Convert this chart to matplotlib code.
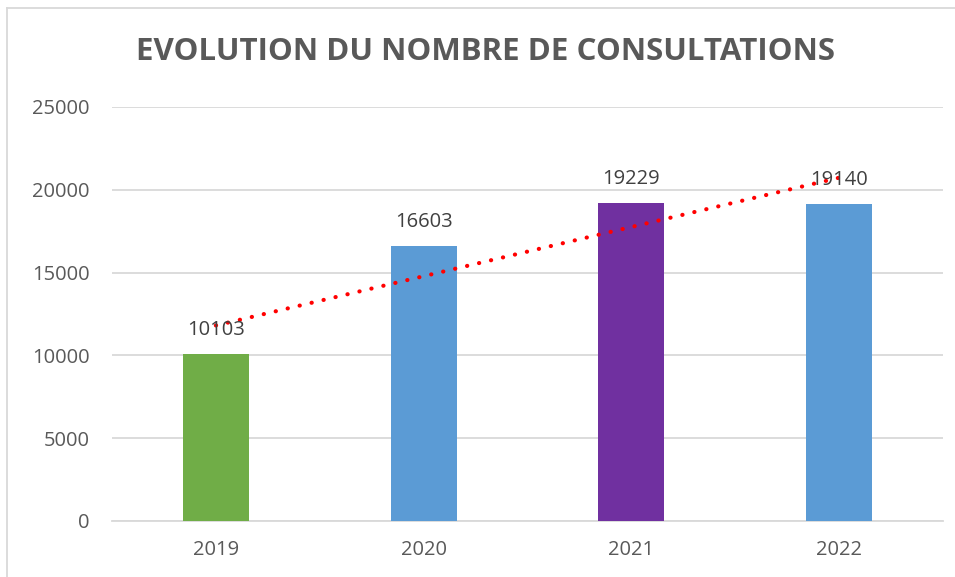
import matplotlib
matplotlib.use("Agg")
import matplotlib.pyplot as plt
import numpy as np
from matplotlib.lines import Line2D

years = ["2019", "2020", "2021", "2022"]
consultations = [10103, 16603, 19229, 19140]
bar_colors = ["#70AD47", "#5B9BD5", "#7030A0", "#5B9BD5"]
yticks = [0, 5000, 10000, 15000, 20000, 25000]
title = "EVOLUTION DU NOMBRE DE CONSULTATIONS"

W, H = 955, 577
fig = plt.figure(figsize=(W / 100, H / 100), dpi=100)
ax = fig.add_axes([112 / W, 1 - 521 / H, (943 - 112) / W, (521 - 107) / H])

x = np.arange(len(years))
ax.bar(x, consultations, width=0.318, color=bar_colors, zorder=3)
ax.set_xlim(-0.5, len(years) - 0.5)
ax.set_ylim(0, 25000)
ax.set_yticks(yticks)
ax.set_yticklabels([str(v) for v in yticks])
ax.set_xticks(x)
ax.set_xticklabels(years)
ax.grid(axis="y", color="#D9D9D9", linewidth=1.3, zorder=0)
for s in ["top", "right", "left"]:
    ax.spines[s].set_visible(False)
ax.spines["bottom"].set_color("#D9D9D9")
ax.spines["bottom"].set_linewidth(1.3)
ax.tick_params(length=0, labelsize=14.5, colors="#595959")
ax.tick_params(axis="y", pad=16)
ax.tick_params(axis="x", pad=14)
for lab in ax.get_xticklabels() + ax.get_yticklabels():
    lab.set_family("Open Sans")

# trend line (linear regression)
coef = np.polyfit(x, consultations, 1)
trend = np.polyval(coef, x)
ax.plot(x, trend, color="#FF0000", linestyle=(0, (0.05, 2.9)), linewidth=3.0,
        dash_capstyle="round", zorder=5)

for xi, v in zip(x, consultations):
    ax.annotate(str(v), (xi, v), xytext=(0, 10), textcoords="offset points",
                ha="center", va="bottom", fontsize=14.5, color="#404040",
                family="Open Sans", zorder=6)

fig.text(485 / W, 1 - 52 / H, title, ha="center", va="center",
         fontsize=22.5, fontweight="bold", color="#595959", family="Open Sans")

# chart border (left and top visible)
fig.add_artist(Line2D([6.5 / W, 6.5 / W], [0, 1 - 7.5 / H], transform=fig.transFigure,
                      color="#D9D9D9", linewidth=1.3))
fig.add_artist(Line2D([6.5 / W, 1], [1 - 7.5 / H, 1 - 7.5 / H], transform=fig.transFigure,
                      color="#D9D9D9", linewidth=1.3))

fig.savefig("out.png", dpi=100)
